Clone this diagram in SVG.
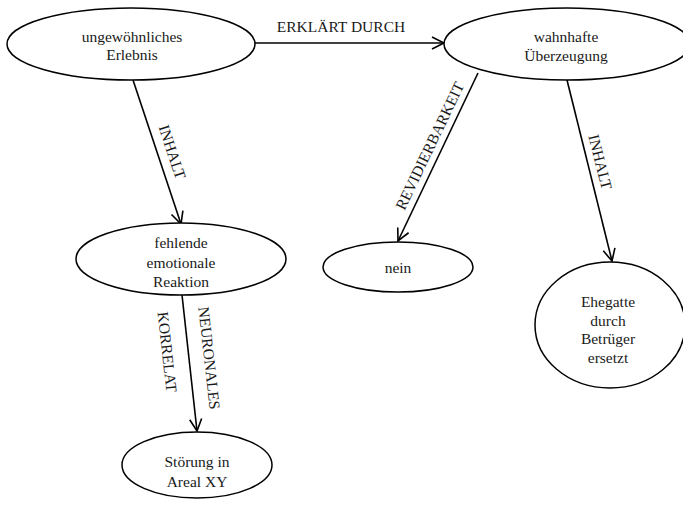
<svg xmlns="http://www.w3.org/2000/svg" width="683" height="507" viewBox="0 0 683 507">
<style>
  .node { fill: #ffffff; stroke: #000000; stroke-width: 1.5; }
  .lbl { font-family: "Liberation Serif", "Times New Roman", serif; font-size: 15.5px; fill: #1a1a1a; text-anchor: middle; }
  .edge { stroke: #000000; stroke-width: 1.6; fill: none; marker-end: url(#arr); }
</style>
<defs>
  <marker id="arr" markerUnits="userSpaceOnUse" markerWidth="16" markerHeight="16" refX="13" refY="7" orient="auto">
    <path d="M1,1 L13,7 L1,13" fill="none" stroke="#000000" stroke-width="1.6"/>
  </marker>
</defs>
<rect width="683" height="507" fill="#ffffff"/>
<g id="connectors">
  <line class="edge" x1="255" y1="43" x2="444" y2="43"/>
  <line class="edge" x1="133" y1="80" x2="181" y2="224"/>
  <line class="edge" x1="478" y1="73" x2="398" y2="241"/>
  <line class="edge" x1="567" y1="80" x2="612" y2="261"/>
  <line class="edge" x1="182" y1="295" x2="197" y2="431"/>
  <text class="lbl" x="341" y="32">ERKLÄRT DURCH</text>
  <text class="lbl" transform="translate(172,152) rotate(71.6)" y="5">INHALT</text>
  <text class="lbl" transform="translate(430,146) rotate(-64.5)" y="5">REVIDIERBARKEIT</text>
  <text class="lbl" transform="translate(600,162) rotate(76)" y="5">INHALT</text>
  <text class="lbl" transform="translate(209,358) rotate(83.7)" y="5">NEURONALES</text>
  <text class="lbl" transform="translate(167,352) rotate(83.7)" y="5">KORRELAT</text>
</g>
<g id="n1">
  <ellipse class="node" cx="131" cy="44" rx="124" ry="36"/>
  <text class="lbl" x="132" y="42">ungewöhnliches</text>
  <text class="lbl" x="132" y="60">Erlebnis</text>
</g>
<g id="n2">
  <ellipse class="node" cx="567" cy="44" rx="123" ry="36"/>
  <text class="lbl" x="566" y="42">wahnhafte</text>
  <text class="lbl" x="566" y="61">Überzeugung</text>
</g>
<g id="n3">
  <ellipse class="node" cx="181" cy="259" rx="105" ry="36"/>
  <text class="lbl" x="181" y="248">fehlende</text>
  <text class="lbl" x="181" y="268">emotionale</text>
  <text class="lbl" x="181" y="287">Reaktion</text>
</g>
<g id="n4">
  <ellipse class="node" cx="398" cy="267" rx="75" ry="25"/>
  <text class="lbl" x="398" y="273">nein</text>
</g>
<g id="n5">
  <ellipse class="node" cx="610" cy="325" rx="75" ry="63"/>
  <text class="lbl" x="608" y="307">Ehegatte</text>
  <text class="lbl" x="608" y="325.5">durch</text>
  <text class="lbl" x="608" y="344">Betrüger</text>
  <text class="lbl" x="608" y="362.5">ersetzt</text>
</g>
<g id="n6">
  <ellipse class="node" cx="197" cy="465" rx="75" ry="33"/>
  <text class="lbl" x="197" y="467">Störung in</text>
  <text class="lbl" x="197" y="487">Areal XY</text>
</g>
</svg>
